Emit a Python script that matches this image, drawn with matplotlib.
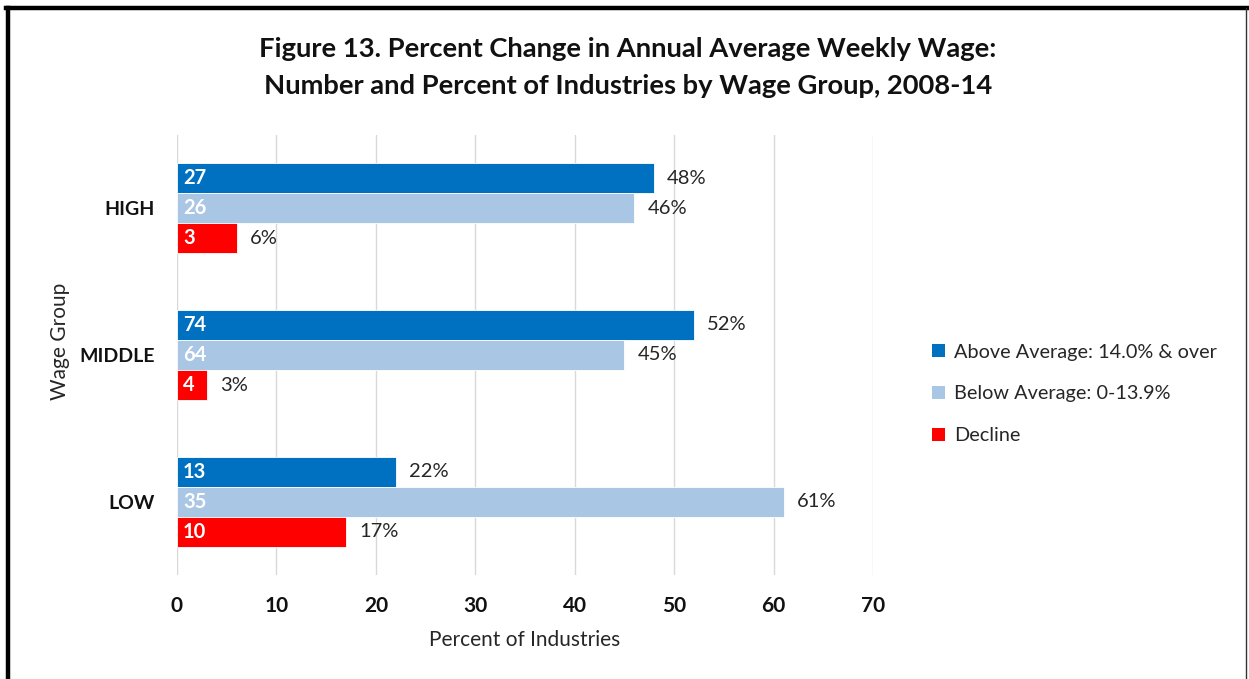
import matplotlib.pyplot as plt
import numpy as np
from matplotlib.lines import Line2D
from matplotlib.patches import Patch

plt.rcParams["font.family"] = ["Lato", "DejaVu Sans"]

# data
groups = ["HIGH", "MIDDLE", "LOW"]
series = ["Above Average: 14.0% & over", "Below Average: 0-13.9%", "Decline"]
colors = ["#0070C0", "#A9C6E4", "#FF0000"]
counts = [
    [27, 74, 13],
    [26, 64, 35],
    [3, 4, 10],
]
percents = [
    [48, 52, 22],
    [46, 45, 61],
    [6, 3, 17],
]

fig = plt.figure(figsize=(12.49, 6.79), dpi=100)
ax = fig.add_axes([177 / 1249, 1 - 575 / 679, 696 / 1249, 440 / 679])

y = np.arange(len(groups))
h = 0.205
offsets = [-h, 0, h]
for i, name in enumerate(series):
    yy = y + offsets[i]
    ax.barh(yy, percents[i], height=h, color=colors[i], label=name,
            edgecolor="white", linewidth=0.6)
    for j in range(len(groups)):
        ax.text(0.6, yy[j], str(counts[i][j]), color="white", fontsize=14.5,
                fontweight="bold", va="center", ha="left")
        ax.text(percents[i][j] + 1.3, yy[j], f"{percents[i][j]}%", color="#262626",
                fontsize=14.5, va="center", ha="left")

ax.set_xlim(0, 70)
ax.set_ylim(2.5, -0.5)
ax.set_xticks(range(0, 71, 10))
ax.set_yticks(y)
ax.set_yticklabels(groups)
ax.tick_params(axis="both", length=0, labelcolor="#111111")
ax.tick_params(axis="x", pad=15, labelsize=15)
ax.tick_params(axis="y", pad=16, labelsize=14)
for lab in ax.get_xticklabels() + ax.get_yticklabels():
    lab.set_fontweight("bold")
ax.grid(axis="x", color="#D9D9D9", linewidth=1)
ax.set_axisbelow(True)
for s in ax.spines.values():
    s.set_visible(False)

ax.set_xlabel("Percent of Industries", fontsize=15, color="#262626", labelpad=10)
fig.text(60 / 1249, 1 - 341 / 679, "Wage Group", rotation=90, fontsize=15,
         color="#262626", ha="center", va="center")

fig.text(628 / 1249, 1 - 49 / 679, "Figure 13. Percent Change in Annual Average Weekly Wage:",
         fontsize=19.7, fontweight="bold", ha="center", va="center", color="#111111")
fig.text(628 / 1249, 1 - 86 / 679, "Number and Percent of Industries by Wage Group, 2008-14",
         fontsize=19.7, fontweight="bold", ha="center", va="center", color="#111111")

handles = [Patch(facecolor=c, label=n) for c, n in zip(colors, series)]
fig.legend(handles=handles, loc="center left", bbox_to_anchor=(914 / 1249, 1 - 394 / 679),
           frameon=False, fontsize=14.3, handlelength=0.65, handleheight=0.65,
           handletextpad=0.45, labelspacing=1.25, labelcolor="#262626")

# frame around the chart
fig.add_artist(Line2D([8 / 1249, 8 / 1249], [0, 1 - 8 / 679], color="black",
                      linewidth=3.2, transform=fig.transFigure))
fig.add_artist(Line2D([6 / 1249, 1247 / 1249], [1 - 8 / 679, 1 - 8 / 679], color="black",
                      linewidth=3.2, transform=fig.transFigure))
fig.add_artist(Line2D([1246 / 1249, 1246 / 1249], [0, 1 - 8 / 679], color="#333333",
                      linewidth=1.0, transform=fig.transFigure))

fig.savefig("out.png", dpi=100)
